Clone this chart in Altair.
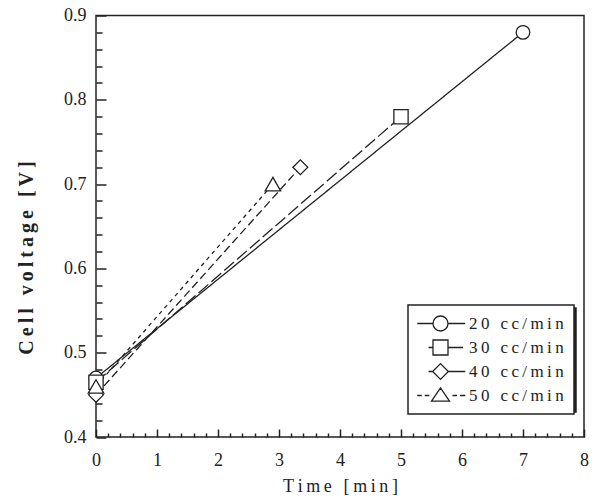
import altair as alt
import pandas as pd

# ---- data ----
series = ["20 cc/min", "30 cc/min", "40 cc/min", "50 cc/min"]
t_start = [0.0, 0.0, 0.0, 0.0]
v_start = [0.47, 0.465, 0.45, 0.46]
t_end = [7.0, 5.0, 3.35, 2.9]
v_end = [0.88, 0.78, 0.72, 0.70]

x_major = [0, 1, 2, 3, 4, 5, 6, 7, 8]
x_minor = [round(i * 0.2, 1) for i in range(41) if i % 5]
y_major = [0.4, 0.5, 0.6, 0.7, 0.8, 0.9]
y_minor = [round(0.4 + i * 0.02, 2) for i in range(26) if i % 5]

rows = []
for s, t0, v0, t1, v1 in zip(series, t_start, v_start, t_end, v_end):
    rows.append({"series": s, "t": t0, "v": v0, "order": 0})
    rows.append({"series": s, "t": t1, "v": v1, "order": 1})
df = pd.DataFrame(rows)

FONT = "'Liberation Serif', 'Times New Roman', Times, serif"
INK = "#222222"
TS = "\u2009"

x_title = TS.join("Time") + TS + " " + TS + TS.join("[min]")
y_title = TS.join("Cell") + TS + " " + TS + TS.join("voltage") + TS + " " + TS + TS.join("[V]")

xs = alt.Scale(domain=[0, 8], nice=False, zero=False)
ys = alt.Scale(domain=[0.4, 0.9], nice=False, zero=False)

x_major_axis = alt.Axis(
    orient="bottom", values=x_major, tickSize=8, offset=-8, tickWidth=1.5,
    tickColor=INK, domain=False, grid=False, labelFont=FONT, labelFontSize=18,
    labelColor=INK, labelPadding=14, labelFlush=False, format="d",
    title=x_title, titleFont=FONT, titleFontSize=18, titleFontWeight="normal",
    titleColor=INK, titlePadding=8,
)
x_minor_axis = alt.Axis(
    orient="bottom", values=x_minor, tickSize=4, offset=-4, tickWidth=1.5,
    tickColor=INK, domain=False, grid=False, labels=False, title=None,
)
y_major_axis = alt.Axis(
    orient="left", values=y_major, tickSize=10, offset=-10, tickWidth=1.5,
    tickColor=INK, domain=False, grid=False, labelFont=FONT, labelFontSize=18,
    labelColor=INK, labelPadding=10, labelFlush=False, format=".1f",
    title=y_title, titleFont=FONT, titleFontSize=20, titleFontWeight="bold",
    titleColor=INK, titleX=-80, titleY=242, titleAngle=-90, titleAlign="center",
    titleBaseline="middle",
)
y_minor_axis = alt.Axis(
    orient="left", values=y_minor, tickSize=6, offset=-6, tickWidth=1.5,
    tickColor=INK, domain=False, grid=False, labels=False, title=None,
)

base = alt.Chart(df)

lines = base.mark_line(strokeWidth=1.3, color=INK).encode(
    x=alt.X("t:Q", scale=xs, axis=x_major_axis),
    y=alt.Y("v:Q", scale=ys, axis=y_major_axis),
    order="order:Q",
    strokeDash=alt.StrokeDash(
        "series:N",
        scale=alt.Scale(domain=series, range=[[1, 0], [13, 4], [8, 4], [4, 4]]),
        legend=None,
    ),
)

points = base.mark_point(filled=True, fill="white", stroke=INK, strokeWidth=1.3, opacity=1).encode(
    x=alt.X("t:Q", scale=xs, axis=x_minor_axis),
    y=alt.Y("v:Q", scale=ys, axis=y_minor_axis),
    shape=alt.Shape(
        "series:N",
        scale=alt.Scale(domain=series, range=["circle", "square", "diamond", "triangle-up"]),
        legend=None,
    ),
    size=alt.Size(
        "series:N",
        scale=alt.Scale(domain=series, range=[185, 240, 280, 280]),
        legend=None,
    ),
)

legend_paths = [
    "M-3.1,0L-1,0M1,0L3.3,0M-1,0A1,1,0,1,0,1,0A1,1,0,1,0,-1,0Z",
    "M-1.6,0L-1,0M1,0L3,0M-1,-1L1,-1L1,1L-1,1Z",
    "M-1.6,0L-1.05,0M1.05,0L3.3,0M-1.05,0L0,-1.05L1.05,0L0,1.05Z",
    "M-3.1,0L-2.5,0M-2.1,0L-1.5,0M1.6,0L2.2,0M2.6,0L3.3,0M-1.2,0.75L0,-1.0L1.2,0.75Z",
]

LABEL_EXPR = "replace(datum.label, regexp('(.)(?=.)', 'g'), '$1\u2009')"
LX, LY = 312, 289.5

# drop shadow of the legend box (no text, only a filled box offset by 3px)
legend_shadow = base.mark_point(opacity=0).encode(
    x=alt.X("t:Q", scale=xs, axis=None),
    y=alt.Y("v:Q", scale=ys, axis=None),
    shape=alt.Shape(
        "series:N",
        scale=alt.Scale(domain=series, range=legend_paths),
        legend=alt.Legend(
            orient="none", legendX=LX + 3, legendY=LY + 3, direction="vertical",
            title=None, symbolSize=225, symbolStrokeWidth=1.3,
            symbolOpacity=0, symbolOffset=14, labelFontSize=17,
            labelExpr="''", labelOffset=114, rowPadding=4.3, padding=10,
            strokeColor=INK, fillColor=INK, zindex=0,
        ),
    ),
)

legend_layer = base.mark_point(opacity=0).encode(
    x=alt.X("t:Q", scale=xs, axis=None),
    y=alt.Y("v:Q", scale=ys, axis=None),
    shape=alt.Shape(
        "series:N",
        scale=alt.Scale(domain=series, range=legend_paths),
        legend=alt.Legend(
            orient="none", legendX=LX, legendY=LY, direction="vertical",
            title=None, symbolSize=225, symbolStrokeWidth=1.3,
            symbolStrokeColor=INK, symbolFillColor="white",
            symbolOpacity=1, symbolOffset=14,
            labelFont=FONT, labelFontSize=17, labelColor=INK, labelOffset=20,
            labelExpr=LABEL_EXPR, rowPadding=3, padding=10,
            strokeColor=INK, fillColor="white", zindex=1,
        ),
    ),
)

chart = (
    alt.layer(lines, points, legend_shadow, legend_layer)
    .resolve_scale(shape="independent")
    .resolve_axis(x="independent", y="independent")
    .properties(
        width=488, height=421.5,
        autosize=alt.AutoSizeParams(type="none"),
        padding={"left": 96, "top": 15.5, "right": 11, "bottom": 61},
        background="white",
    )
    .configure_view(stroke=INK, strokeWidth=1.5)
    .configure_legend(strokeWidth=1.5)
)

chart.save("out.html", embed_options={"renderer": "svg", "actions": False})
